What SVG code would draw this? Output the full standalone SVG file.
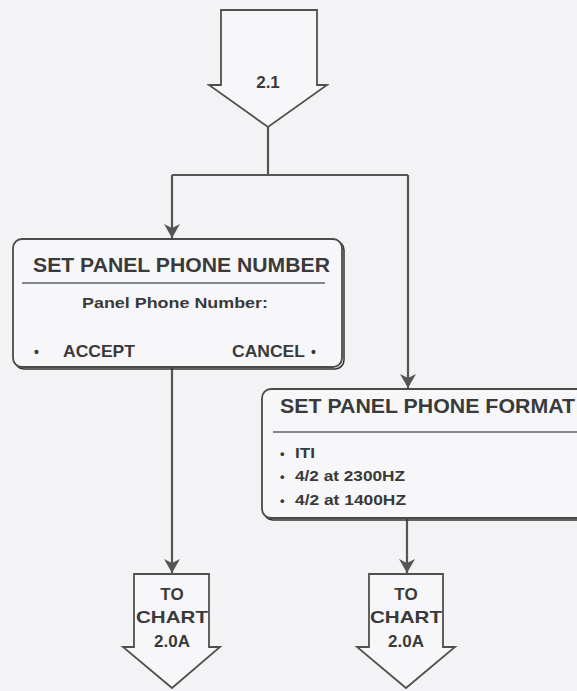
<svg xmlns="http://www.w3.org/2000/svg" width="577" height="691" viewBox="0 0 577 691">
<style>
  .bg{fill:#f3f3f5}
  .shape{fill:#f7f7f9;stroke:#505050;stroke-width:1.8}
  .box{fill:#f7f7f9;stroke:#4a4a4a;stroke-width:1.8}
  .sep{stroke:#5a6468;stroke-width:1.4}
  .conn{fill:none;stroke:#555;stroke-width:2.2}
  .t{font-family:"Liberation Sans",Arial,sans-serif;font-weight:bold;fill:#3a3a3a}
</style>
<defs>
  <marker id="ah" markerUnits="userSpaceOnUse" markerWidth="18" markerHeight="16" refX="14" refY="8" orient="auto">
    <path d="M0,0 L14,8 L0,16 L4,8 Z" fill="#555"/>
  </marker>
</defs>
<rect class="bg" x="0" y="0" width="577" height="691"/>

<g id="connectors">
  <path class="conn" d="M268,127 V175"/>
  <path class="conn" d="M172,175 H408"/>
  <path class="conn" d="M172,175 V238" marker-end="url(#ah)"/>
  <path class="conn" d="M408,175 V388" marker-end="url(#ah)"/>
  <path class="conn" d="M172,367 V573" marker-end="url(#ah)"/>
  <path class="conn" d="M407,518 V573" marker-end="url(#ah)"/>
</g>

<g id="start-2-1">
  <polygon class="shape" points="221,10 317,10 317,85 327,85 268,127 209,85 221,85"/>
  <text class="t" x="268" y="88" font-size="17" text-anchor="middle">2.1</text>
</g>

<g id="set-panel-phone-number">
  <rect x="15" y="241" width="329" height="128" rx="9" fill="none" stroke="#333" stroke-width="1.5"/>
  <rect class="box" x="13" y="239" width="329" height="128" rx="9"/>
  <text class="t" x="33" y="272" font-size="20.5" textLength="297" lengthAdjust="spacingAndGlyphs">SET PANEL PHONE NUMBER</text>
  <line class="sep" x1="22" y1="283" x2="325" y2="283"/>
  <text class="t" x="82" y="308" font-size="15" textLength="186" lengthAdjust="spacingAndGlyphs">Panel Phone Number:</text>
  <text class="t" x="34" y="357" font-size="14">•</text>
  <text class="t" x="63" y="357" font-size="16.5" textLength="72" lengthAdjust="spacingAndGlyphs">ACCEPT</text>
  <text class="t" x="232" y="357" font-size="16.5" textLength="73" lengthAdjust="spacingAndGlyphs">CANCEL</text>
  <text class="t" x="311" y="357" font-size="14">•</text>
</g>

<g id="set-panel-phone-format">
  <rect x="264" y="391" width="330" height="129" rx="9" fill="none" stroke="#333" stroke-width="1.5"/>
  <rect class="box" x="262" y="389" width="330" height="129" rx="9"/>
  <text class="t" x="280" y="413" font-size="20.5" textLength="295" lengthAdjust="spacingAndGlyphs">SET PANEL PHONE FORMAT</text>
  <line class="sep" x1="273" y1="432" x2="592" y2="432"/>
  <text class="t" x="280" y="458" font-size="13">•</text>
  <text class="t" x="295" y="458" font-size="15" textLength="20" lengthAdjust="spacingAndGlyphs">ITI</text>
  <text class="t" x="280" y="481" font-size="13">•</text>
  <text class="t" x="295" y="481" font-size="15" textLength="110" lengthAdjust="spacingAndGlyphs">4/2 at 2300HZ</text>
  <text class="t" x="280" y="505" font-size="13">•</text>
  <text class="t" x="295" y="505" font-size="15" textLength="111" lengthAdjust="spacingAndGlyphs">4/2 at 1400HZ</text>
</g>

<g id="to-chart-left">
  <polygon class="shape" points="134,574 209,574 209,647 220,647 172,688 123,647 134,647"/>
  <text class="t" x="172" y="600" font-size="17" text-anchor="middle">TO</text>
  <text class="t" x="172" y="623" font-size="17" text-anchor="middle" textLength="72" lengthAdjust="spacingAndGlyphs">CHART</text>
  <text class="t" x="172" y="647" font-size="17" text-anchor="middle">2.0A</text>
</g>

<g id="to-chart-right">
  <polygon class="shape" points="369,574 443,574 443,647 455,647 406,688 357,647 369,647"/>
  <text class="t" x="406" y="600" font-size="17" text-anchor="middle">TO</text>
  <text class="t" x="406" y="623" font-size="17" text-anchor="middle" textLength="72" lengthAdjust="spacingAndGlyphs">CHART</text>
  <text class="t" x="406" y="647" font-size="17" text-anchor="middle">2.0A</text>
</g>
</svg>
